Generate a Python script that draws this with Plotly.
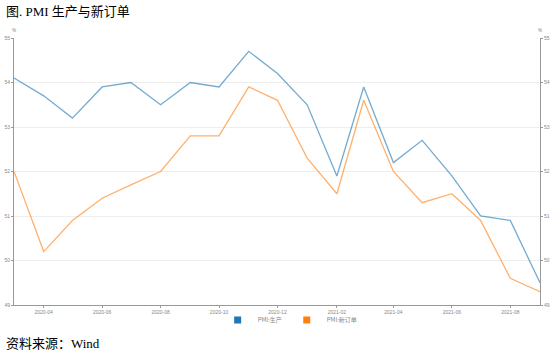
import plotly.graph_objects as go

months = ["2020-03", "2020-04", "2020-05", "2020-06", "2020-07", "2020-08", "2020-09",
          "2020-10", "2020-11", "2020-12", "2021-01", "2021-02", "2021-03", "2021-04",
          "2021-05", "2021-06", "2021-07", "2021-08", "2021-09"]
pmi_production = [54.1, 53.7, 53.2, 53.9, 54.0, 53.5, 54.0, 53.9, 54.7, 54.2, 53.5, 51.9,
                  53.9, 52.2, 52.7, 51.9, 51.0, 50.9, 49.5]
pmi_new_orders = [52.0, 50.2, 50.9, 51.4, 51.7, 52.0, 52.8, 52.8, 53.9, 53.6, 52.3, 51.5,
                  53.6, 52.0, 51.3, 51.5, 50.9, 49.6, 49.3]
series_names = ["PMI:生产", "PMI:新订单"]
y_ticks = [49, 50, 51, 52, 53, 54, 55]

x = [m + "-01" for m in months]

blue = "#1f77b4"
orange = "#ff7f0e"

fig = go.Figure()
fig.add_trace(go.Scatter(x=x, y=pmi_production, mode="lines", name=series_names[0],
                         line=dict(color="rgba(31,119,180,0.62)", width=1.3), showlegend=False))
fig.add_trace(go.Scatter(x=x, y=pmi_new_orders, mode="lines", name=series_names[1],
                         line=dict(color="rgba(255,127,14,0.62)", width=1.3), showlegend=False,
                         yaxis="y2"))
# legend squares
fig.add_trace(go.Scatter(x=[None], y=[None], mode="markers", name=series_names[0],
                         marker=dict(color=blue, symbol="square", size=7)))
fig.add_trace(go.Scatter(x=[None], y=[None], mode="markers", name=series_names[1],
                         marker=dict(color=orange, symbol="square", size=7)))

tickfont = dict(size=5, color="#888888", family="Arial, Liberation Sans, sans-serif")

PH = 267.0

fig.update_layout(
    width=551, height=355,
    margin=dict(l=14, r=11, t=38, b=50, autoexpand=False),
    paper_bgcolor="white", plot_bgcolor="white",
    xaxis=dict(type="date", range=[x[0], x[-1]], tick0="2020-04-01", dtick="M2",
               tickformat="%Y-%m", showgrid=False, showline=True, linecolor="#999999",
               linewidth=1, ticks="outside", ticklen=2, tickcolor="#999999",
               tickfont=tickfont, zeroline=False),
    yaxis=dict(range=[49, 55], tickvals=y_ticks, showgrid=True, gridcolor="#eeeeee",
               gridwidth=1, showline=True, linecolor="#999999", linewidth=1,
               ticks="outside", ticklen=2, tickcolor="#999999", tickfont=tickfont,
               zeroline=False),
    yaxis2=dict(range=[49, 55], tickvals=y_ticks, overlaying="y", side="right",
                showgrid=False, showline=True, linecolor="#999999", linewidth=1,
                ticks="outside", ticklen=2, tickcolor="#999999", tickfont=tickfont,
                zeroline=False),
    legend=dict(orientation="h", x=0.525, xanchor="center", y=-15/PH, yanchor="middle",
                font=dict(size=6, color="#888888", family="Noto Sans CJK SC"),
                itemwidth=30, tracegroupgap=0, bgcolor="rgba(0,0,0,0)"),
    showlegend=True,
)

fig.add_annotation(text="图. PMI 生产与新订单", xref="paper", yref="paper", x=-10/526,
                   y=1 + 26/PH, xanchor="left", yanchor="middle", showarrow=False,
                   font=dict(size=13, color="#000000",
                             family="Liberation Serif, Noto Sans CJK SC"))
fig.add_annotation(text="资料来源：Wind", xref="paper", yref="paper", x=-10/526, y=-38/PH,
                   xanchor="left", yanchor="middle", showarrow=False,
                   font=dict(size=13, color="#000000",
                             family="Liberation Serif, Noto Sans CJK SC"))
fig.add_annotation(text="%", xref="paper", yref="paper", x=0, y=1 + 3/PH,
                   xanchor="center", yanchor="bottom", showarrow=False,
                   font=dict(size=5, color="#888888"))
fig.add_annotation(text="%", xref="paper", yref="paper", x=1, y=1 + 3/PH,
                   xanchor="center", yanchor="bottom", showarrow=False,
                   font=dict(size=5, color="#888888"))

fig.write_html("out.html")
